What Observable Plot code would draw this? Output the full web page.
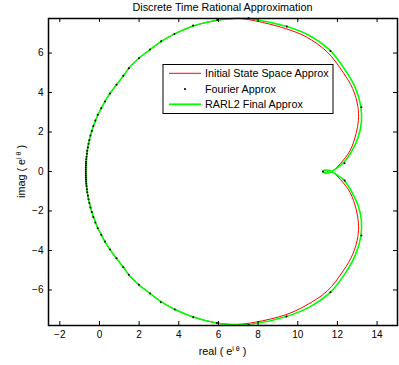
<!DOCTYPE html>
<html><head><meta charset="utf-8">
<script src="https://cdn.jsdelivr.net/npm/d3@7"></script>
<script src="https://cdn.jsdelivr.net/npm/@observablehq/plot@0.6"></script>
<style>body{margin:0;background:#fff}</style>
</head><body><div id="chart"></div>
<script>
const xTicks = [-2, 0, 2, 4, 6, 8, 10, 12, 14];
const yTicks = [-6, -4, -2, 0, 2, 4, 6];
const titleText = "Discrete Time Rational Approximation";
const legendLabels = ["Initial State Space Approx", "Fourier Approx", "RARL2 Final Approx"];

// RARL2 final approximation (green), closed curve
const rarl2Re = [-0.69,-0.61,-0.42,-0.11,0.09,0.32,0.60,0.92,1.22,1.48,2.00,2.52,3.10,3.79,4.73,5.94,7.00,7.90,9.45,10.56,11.65,12.45,12.92,13.18,13.21,13.05,12.75,12.33,11.90,11.60,11.36,11.27,11.36,11.60,11.90,12.35,12.75,13.05,13.21,13.18,12.92,12.45,11.65,10.56,9.43,7.88,6.95,5.92,4.73,3.79,3.10,2.52,2.00,1.48,1.22,0.92,0.60,0.32,0.09,-0.11,-0.42,-0.61];
const rarl2Im = [0,1.10,1.94,2.80,3.20,3.63,4.05,4.48,4.86,5.23,5.75,6.15,6.58,6.97,7.37,7.66,7.76,7.69,7.34,6.90,6.11,5.05,4.20,3.30,2.50,1.75,1.08,0.47,0.12,-0.05,-0.07,0,0.07,0.05,-0.12,-0.46,-1.08,-1.74,-2.50,-3.28,-4.20,-5.07,-6.11,-6.88,-7.34,-7.70,-7.78,-7.67,-7.37,-6.98,-6.59,-6.15,-5.75,-5.23,-4.86,-4.48,-4.05,-3.63,-3.20,-2.80,-1.94,-1.10];

// Initial state space approximation (red), closed curve
const initialRe = [-0.69,-0.61,-0.42,-0.11,0.09,0.32,0.60,0.92,1.22,1.48,2.00,2.52,3.10,3.79,4.73,5.94,7.00,7.86,9.38,10.42,11.48,12.30,12.77,13.03,13.06,12.94,12.64,12.14,11.85,11.66,11.55,11.51,11.55,11.66,11.85,12.14,12.64,12.94,13.06,13.03,12.77,12.30,11.48,10.40,9.38,7.87,6.95,5.92,4.73,3.79,3.10,2.52,2.00,1.48,1.22,0.92,0.60,0.32,0.09,-0.11,-0.42,-0.61];
const initialIm = [0,1.10,1.94,2.80,3.20,3.63,4.05,4.48,4.86,5.23,5.75,6.15,6.58,6.97,7.37,7.66,7.75,7.63,7.24,6.82,6.06,5.00,4.20,3.30,2.60,1.92,1.06,0.39,0.10,-0.04,-0.06,0,0.06,0.04,-0.10,-0.39,-1.06,-1.90,-2.60,-3.30,-4.20,-5.02,-6.06,-6.79,-7.26,-7.63,-7.74,-7.67,-7.37,-6.98,-6.59,-6.15,-5.75,-5.23,-4.86,-4.48,-4.05,-3.63,-3.20,-2.80,-1.94,-1.10];

// Fourier approximation samples (black dots)
const fourierRe = [-0.69,-0.69,-0.688,-0.684,-0.679,-0.673,-0.663,-0.65,-0.633,-0.613,-0.584,-0.55,-0.51,-0.456,-0.39,-0.31,-0.21,-0.09,0.09,0.28,0.53,0.86,1.20,1.48,1.99,2.55,3.11,3.78,4.72,5.94,7.52,9.45,11.65,13.21,12.36,
  11.27,
  12.37,13.21,11.65,9.43,7.52,5.92,4.73,3.80,3.09,2.55,1.99,1.48,1.20,0.86,0.53,0.28,0.09,-0.09,-0.21,-0.31,-0.39,-0.456,-0.51,-0.55,-0.584,-0.613,-0.633,-0.65,-0.663,-0.673,-0.679,-0.684,-0.688,-0.69];
const fourierIm = [0,0.10,0.20,0.30,0.40,0.50,0.62,0.75,0.90,1.05,1.22,1.40,1.60,1.82,2.05,2.30,2.58,2.88,3.20,3.55,3.95,4.40,4.85,5.23,5.74,6.18,6.60,6.97,7.39,7.67,7.78,7.34,6.11,3.26,0.42,
  0,
  -0.46,-3.24,-6.11,-7.34,-7.78,-7.67,-7.38,-6.99,-6.62,-6.18,-5.74,-5.23,-4.85,-4.40,-3.95,-3.55,-3.20,-2.88,-2.58,-2.30,-2.05,-1.82,-1.60,-1.40,-1.22,-1.05,-0.90,-0.75,-0.62,-0.50,-0.40,-0.30,-0.20,-0.10];

const pts = (re, im) => re.map((x, i) => ({x, y: im[i]}));
const rarl2 = pts(rarl2Re, rarl2Im);
const initial = pts(initialRe, initialIm);
const fourier = pts(fourierRe, fourierIm);

const W = 399, H = 365, mL = 48, mR = 2, mT = 18, mB = 40;
const fw = W - mL - mR, fh = H - mT - mB;
const tick = 4;

const svg = Plot.plot({
  width: W, height: H,
  marginLeft: mL, marginRight: mR, marginTop: mT, marginBottom: mB,
  style: {fontFamily: "'Liberation Sans', Arial, sans-serif", fontSize: "10px", background: "white", color: "black", overflow: "visible"},
  x: {domain: [-2.57, 15.03]},
  y: {domain: [-7.8, 7.75]},
  marks: [
    Plot.line(initial, {x: "x", y: "y", stroke: "#ff0000", strokeWidth: 1, curve: "catmull-rom-closed"}),
    Plot.line(rarl2, {x: "x", y: "y", stroke: "#00ff00", strokeWidth: 1.6, curve: "catmull-rom-closed"}),
    Plot.dot(fourier, {x: "x", y: "y", r: 1, fill: "black", stroke: null}),
    Plot.tickX(xTicks, {x: d => d, insetTop: fh - tick, stroke: "black"}),
    Plot.tickX(xTicks, {x: d => d, insetBottom: fh - tick, stroke: "black"}),
    Plot.tickY(yTicks, {y: d => d, insetRight: fw - tick, stroke: "black"}),
    Plot.tickY(yTicks, {y: d => d, insetLeft: fw - tick, stroke: "black"}),
    Plot.axisX(xTicks, {tickSize: 0, tickPadding: 5, label: null}),
    Plot.axisY(yTicks, {tickSize: 0, tickPadding: 5, label: null}),
    Plot.frame({stroke: "black", strokeWidth: 1.5})
  ]
});
document.getElementById("chart").appendChild(svg);

const s = d3.select(svg);
const font = "'Liberation Sans', Arial, sans-serif";
const cx = mL + fw / 2;

s.append("text").attr("x", cx).attr("y", 11).attr("text-anchor", "middle")
  .attr("font-family", font).attr("font-size", 10.8).attr("fill", "black").text(titleText);

function labelWithSup(g, prefix) {
  g.append("tspan").text(prefix + " ( e");
  g.append("tspan").attr("font-size", 7).attr("dy", -4.5).text("i θ");
  g.append("tspan").attr("dy", 4.5).text(" )");
}
const xl = s.append("text").attr("x", cx).attr("y", 355).attr("text-anchor", "middle")
  .attr("font-family", font).attr("font-size", 10.8).attr("fill", "black");
labelWithSup(xl, "real");
const yl = s.append("text").attr("transform", `translate(25,${mT + fh / 2}) rotate(-90)`)
  .attr("text-anchor", "middle").attr("font-family", font).attr("font-size", 10.8).attr("fill", "black");
labelWithSup(yl, "imag");

// legend
const lg = s.append("g");
lg.append("rect").attr("x", 163).attr("y", 64.5).attr("width", 170).attr("height", 49)
  .attr("fill", "white").attr("stroke", "black").attr("stroke-width", 1);
const rows = [73.3, 89, 104.3];
lg.append("line").attr("x1", 169).attr("x2", 201).attr("y1", rows[0]).attr("y2", rows[0]).attr("stroke", "#ff0000").attr("stroke-width", 1);
lg.append("circle").attr("cx", 185).attr("cy", rows[1]).attr("r", 1.1).attr("fill", "black");
lg.append("line").attr("x1", 169).attr("x2", 201).attr("y1", rows[2]).attr("y2", rows[2]).attr("stroke", "#00ff00").attr("stroke-width", 1.8);
legendLabels.forEach((t, i) => {
  lg.append("text").attr("x", 205).attr("y", rows[i] + 3.8).attr("text-anchor", "start").attr("font-family", font)
    .attr("font-size", 10.8).attr("fill", "black").text(t);
});
</script>
</body></html>
